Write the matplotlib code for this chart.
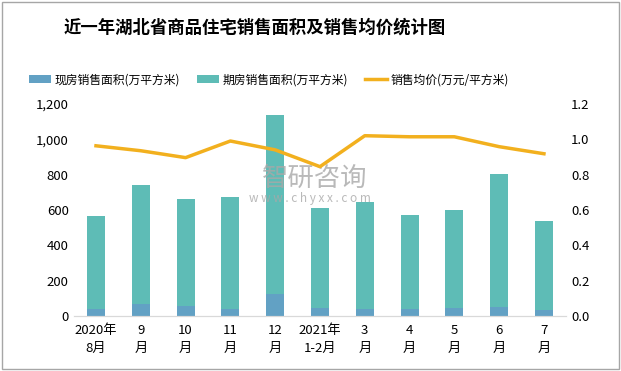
import matplotlib.pyplot as plt
import numpy as np

plt.rcParams['font.family'] = ['Noto Sans CJK SC', 'DejaVu Sans']

# 数据
meses = ['2020年\n8月', '9\n月', '10\n月', '11\n月', '12\n月', '2021年\n1-2月',
         '3\n月', '4\n月', '5\n月', '6\n月', '7\n月']
total = [566, 741, 662, 673, 1137, 611, 645, 571, 600, 803, 538]
xianfang = [40, 68, 57, 40, 125, 45, 40, 40, 45, 51, 34]
qifang = [t - x for t, x in zip(total, xianfang)]
junjia = [0.963, 0.935, 0.896, 0.99, 0.94, 0.845, 1.02, 1.014, 1.014, 0.958, 0.918]

fig = plt.figure(figsize=(6.21, 3.71), dpi=100)
fig.patches.append(plt.Rectangle((0.003, 0.005), 0.994, 0.99, transform=fig.transFigure,
                                 fill=False, edgecolor='#a6a6a6', linewidth=1))
ax = fig.add_axes([0.1185, 0.148, 0.7935, 0.572])
ax2 = ax.twinx()

x = np.arange(len(meses))
b1 = ax.bar(x, xianfang, width=0.4, color='#62a1c4', label='现房销售面积(万平方米)')
b2 = ax.bar(x, qifang, width=0.4, bottom=xianfang, color='#5ebcb6', label='期房销售面积(万平方米)')
l1, = ax2.plot(x, junjia, color='#f2b01e', linewidth=2.5, label='销售均价(万元/平方米)')

ax.set_xlim(-0.5, len(meses) - 0.5)
ax.set_ylim(0, 1200)
ax.set_yticks(range(0, 1201, 200))
ax.set_yticklabels([f'{v:,}' for v in range(0, 1201, 200)])
ax2.set_ylim(0, 1.2)
ax2.set_yticks(np.arange(0, 1.21, 0.2))
ax2.set_yticklabels([f'{v:.1f}' for v in np.arange(0, 1.21, 0.2)])

ax.set_xticks(x)
ax.set_xticklabels(meses, fontsize=9.5, linespacing=1.5)
for a in (ax, ax2):
    for s in ['top', 'left', 'right']:
        a.spines[s].set_visible(False)
    a.spines['bottom'].set_color('#d9d9d9')
    a.tick_params(length=0, labelsize=9.5)
ax.tick_params(axis='x', pad=6)

# 水印
ax.text(0.49, 0.65, '智研咨询', transform=ax.transAxes, fontsize=19, color='#a8a8a8',
        alpha=0.8, ha='center', va='center')
ax.text(0.48, 0.555, 'w w w . c h y x x . c o m', transform=ax.transAxes, fontsize=8.5,
        color='#a8a8a8', alpha=0.8, ha='center', va='center')

fig.text(0.41, 0.925, '近一年湖北省商品住宅销售面积及销售均价统计图', ha='center', va='center',
         fontsize=12.5, fontweight='bold')
fig.legend(handles=[b1, b2, l1], loc='center', bbox_to_anchor=(0.433, 0.785), ncol=3,
           frameon=False, fontsize=8.5, handlelength=1.8, columnspacing=1.5,
           handletextpad=0.3)

plt.savefig('out.png', dpi=100)
